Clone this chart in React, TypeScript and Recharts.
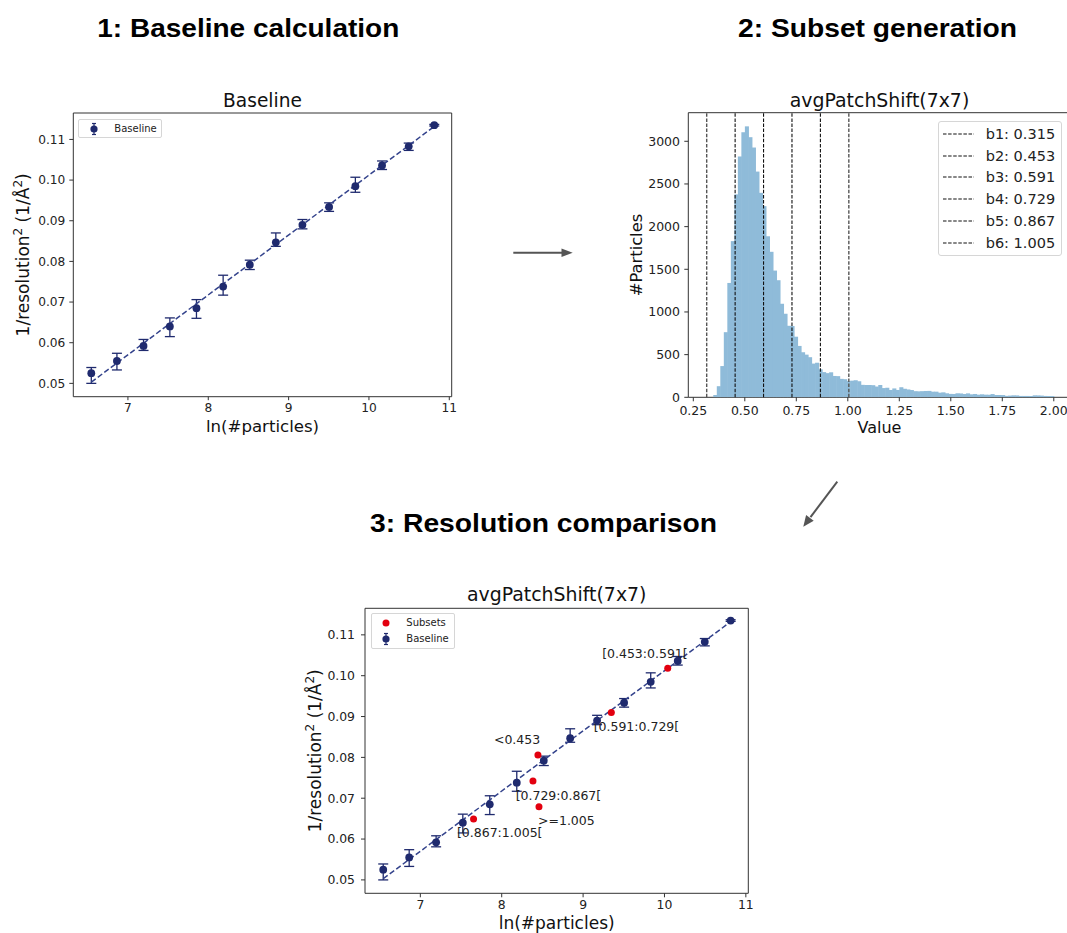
import React from 'react';
import {
  ComposedChart,
  Scatter,
  Bar,
  XAxis,
  YAxis,
  ErrorBar,
  ReferenceLine,
  ReferenceArea,
} from 'recharts';

// ---------------- data ----------------
const baselineLnParticles = [6.544, 6.863, 7.194, 7.522, 7.853, 8.185, 8.517, 8.841, 9.172, 9.504, 9.831, 10.163, 10.495, 10.813];
const baselineInvRes2 = [0.0525, 0.0555, 0.0592, 0.064, 0.0685, 0.0738, 0.0792, 0.0847, 0.089, 0.0934, 0.0985, 0.1036, 0.1083, 0.1135];
const baselineErrLow = [0.0025, 0.0022, 0.0011, 0.0025, 0.0025, 0.0021, 0.0012, 0.001, 0.001, 0.0011, 0.0015, 0.001, 0.001, 0.0002];
const baselineErrHigh = [0.0014, 0.0019, 0.0016, 0.0021, 0.0021, 0.0028, 0.0011, 0.0023, 0.0013, 0.001, 0.0022, 0.0011, 0.0008, 0.0002];

const fitLnParticles = [6.544, 10.813];
const fitInvRes2 = [0.0503, 0.1132];

const subsetLabels = ['<0.453', '[0.453:0.591[', '[0.591:0.729[', '[0.729:0.867[', '[0.867:1.005[', '>=1.005'];
const subsetLnParticles = [8.445, 10.04, 9.347, 8.384, 7.654, 8.458];
const subsetInvRes2 = [0.0806, 0.1018, 0.091, 0.0742, 0.0649, 0.0679];

const histStart = 0.347;
const histBinWidth = 0.01704;
const histCounts = [
  27, 130, 366, 763, 1340, 1830, 2378, 2822, 3106, 3175,
  3048, 2927, 2645, 2396, 2240, 1887, 1705, 1485, 1372, 1096,
  979, 838, 835, 710, 602, 528, 500, 470, 395, 405,
  328, 295, 283, 293, 250, 248, 216, 212, 190, 195,
  200, 188, 146, 144, 144, 142, 126, 144, 108, 112,
  86, 104, 86, 118, 100, 92, 85, 72, 70, 72,
  74, 75, 66, 66, 54, 58, 47, 40, 39, 47,
  45, 39, 46, 35, 39, 31, 35, 31, 30, 38,
  27, 27, 26, 17, 20, 23, 22, 16, 16, 16,
  15, 23, 22, 20, 16, 15, 14,
];

const boundaryNames = ['b1', 'b2', 'b3', 'b4', 'b5', 'b6'];
const boundaryValues = [0.315, 0.453, 0.591, 0.729, 0.867, 1.005];

const lnTicks = [7, 8, 9, 10, 11];
const resTicks = [0.05, 0.06, 0.07, 0.08, 0.09, 0.1, 0.11];
const valueTicks = [0.25, 0.5, 0.75, 1.0, 1.25, 1.5, 1.75, 2.0];
const countTicks = [0, 500, 1000, 1500, 2000, 2500, 3000];

// ---------------- derived tables ----------------
const baselineData = baselineLnParticles.map((x, i) => ({
  x,
  y: baselineInvRes2[i],
  err: [baselineErrLow[i], baselineErrHigh[i]],
}));
const fitData = fitLnParticles.map((x, i) => ({ x, y: fitInvRes2[i] }));
const subsetData = subsetLnParticles.map((x, i) => ({ x, y: subsetInvRes2[i], label: subsetLabels[i] }));
const histData = histCounts.map((c, i) => ({ x: histStart + (i + 0.5) * histBinWidth, count: c }));

// ---------------- styles ----------------
const FONT = '"DejaVu Sans", Verdana, sans-serif';
const NAVY = '#1f2a6e';
const LINE_NAVY = '#34438c';
const RED = '#e3000f';
const HIST_FILL = '#8fbbd9';
const LN_DOMAIN: [number, number] = [6.32, 11.03];
const RES_DOMAIN: [number, number] = [0.04672, 0.1165];
const VAL_DOMAIN: [number, number] = [0.2257, 2.0816];
const CNT_DOMAIN: [number, number] = [0, 3335];

const subsetLabelOffsets: Record<string, [number, number]> = {
  '<0.453': [-44, -15.4],
  '[0.453:0.591[': [-65.6, -15],
  '[0.591:0.729[': [-17.7, 14.4],
  '[0.729:0.867[': [-17.3, 14],
  '[0.867:1.005[': [-16.6, 13.7],
  '>=1.005': [-1, 13.3],
};

const fmt2 = (v: number) => v.toFixed(2);

const makeXLabel = (text: string, dy: number, fs: number) => (props: any) => {
  const vb = props.viewBox || { x: 0, y: 0, width: 0, height: 0 };
  return (
    <text x={vb.x + vb.width / 2} y={vb.y + dy} textAnchor="middle" fontSize={fs} fill="#111" fontFamily={FONT}>
      {text}
    </text>
  );
};

const makeResYLabel = (dx: number) => (props: any) => {
  const vb = props.viewBox || { x: 0, y: 0, width: 0, height: 0 };
  const cx = vb.x + vb.width - dx;
  const cy = vb.y + vb.height / 2;
  return (
    <text transform={`translate(${cx},${cy}) rotate(-90)`} textAnchor="middle" fontSize={17} fill="#111" fontFamily={FONT}>
      1/resolution
      <tspan dy={-7} fontSize={12}>2</tspan>
      <tspan dy={7}> (1/Å</tspan>
      <tspan dy={-7} fontSize={12}>2</tspan>
      <tspan dy={7}>)</tspan>
    </text>
  );
};

const makePlainYLabel = (text: string, dx: number, fs: number) => (props: any) => {
  const vb = props.viewBox || { x: 0, y: 0, width: 0, height: 0 };
  const cx = vb.x + vb.width - dx;
  const cy = vb.y + vb.height / 2;
  return (
    <text transform={`translate(${cx},${cy}) rotate(-90)`} textAnchor="middle" fontSize={fs} fill="#111" fontFamily={FONT}>
      {text}
    </text>
  );
};

const navyDot = (p: any) => <circle cx={p.cx} cy={p.cy} r={3.9} fill={NAVY} />;
const noDot = () => <g />;
const redDotWithLabel = (p: any) => {
  const lbl = p.payload?.label as string;
  const off = subsetLabelOffsets[lbl] || [0, 0];
  return (
    <g>
      <text
        x={p.cx + off[0]}
        y={p.cy + off[1]}
        dy="0.36em"
        fontSize={12.5}
        fill="#222"
        fontFamily={FONT}
        textAnchor="start"
      >
        {lbl}
      </text>
      <circle cx={p.cx} cy={p.cy} r={3.5} fill={RED} />
    </g>
  );
};

// histogram bar: close the sub-pixel gaps between adjacent bins
const histBarShape = (p: any) => {
  if (!p || p.height == null || p.height <= 0) return <g />;
  return <rect x={p.x} y={p.y} width={Math.max(p.width, 0) + 0.9} height={p.height} fill={HIST_FILL} />;
};

const tickStyle = (fs: number) => ({ fontSize: fs, fill: '#222', fontFamily: FONT });

// --- legend marker (errorbar + dot) ---
const ErrMarker = () => (
  <svg width={12} height={14} style={{ display: 'block' }}>
    <line x1={6} y1={1.5} x2={6} y2={12.5} stroke={NAVY} strokeWidth={1.2} />
    <line x1={4} y1={1.5} x2={8} y2={1.5} stroke={NAVY} strokeWidth={1.2} />
    <line x1={4} y1={12.5} x2={8} y2={12.5} stroke={NAVY} strokeWidth={1.2} />
    <circle cx={6} cy={7} r={3.6} fill={NAVY} />
  </svg>
);

// ---------------- chart 1 ----------------
const BaselineChart = () => (
  <div style={{ position: 'absolute', left: 0, top: 80, width: 470, height: 370 }}>
    <ComposedChart width={470} height={370} margin={{ top: 33, right: 18.3, left: 23.3, bottom: 23.3 }}>
      <XAxis
        type="number"
        dataKey="x"
        domain={LN_DOMAIN}
        ticks={lnTicks}
        allowDataOverflow
        axisLine={false}
        tickLine={{ stroke: '#333' }}
        tickSize={3.5}
        tickMargin={3}
        tick={tickStyle(12.2)}
        height={30}
        label={makeXLabel('ln(#particles)', 35, 16.6)}
      />
      <YAxis
        type="number"
        dataKey="y"
        domain={RES_DOMAIN}
        ticks={resTicks}
        allowDataOverflow
        axisLine={false}
        tickLine={{ stroke: '#333' }}
        tickSize={4}
        tickMargin={4}
        tick={tickStyle(12.2)}
        tickFormatter={fmt2}
        width={50}
        label={makeResYLabel(44.3)}
      />
      <ReferenceArea x1={LN_DOMAIN[0]} x2={LN_DOMAIN[1]} y1={RES_DOMAIN[0]} y2={RES_DOMAIN[1]} fill="none" stroke="#333" strokeWidth={1} ifOverflow="visible" />
      <Scatter
        data={fitData}
        line={{ stroke: LINE_NAVY, strokeWidth: 1.5, strokeDasharray: '5.5 2.6' }}
        shape={noDot}
        isAnimationActive={false}
      />
      <Scatter data={baselineData} shape={navyDot} isAnimationActive={false}>
        <ErrorBar dataKey="err" direction="y" width={5} stroke={NAVY} strokeWidth={1.3} isAnimationActive={false} />
      </Scatter>
    </ComposedChart>
    <div
      style={{
        position: 'absolute',
        left: 78.3,
        top: 39.3,
        width: 83.4,
        height: 18.4,
        boxSizing: 'border-box',
        border: '1px solid #d6d6d6',
        borderRadius: 2,
        background: 'rgba(255,255,255,0.85)',
        fontFamily: FONT,
        fontSize: 10,
        color: '#222',
      }}
    >
      <div style={{ position: 'absolute', left: 8.4, top: 1.5 }}>
        <ErrMarker />
      </div>
      <div style={{ position: 'absolute', left: 35, top: 2.3, lineHeight: '12px' }}>Baseline</div>
    </div>
  </div>
);

// ---------------- chart 2 ----------------
const HistChart = () => (
  <div style={{ position: 'absolute', left: 600, top: 80, width: 490, height: 370 }}>
    <ComposedChart
      width={490}
      height={370}
      data={histData}
      margin={{ top: 32.7, right: 19.4, left: 38.3, bottom: 22.7 }}
      barCategoryGap={0}
      barGap={0}
    >
      <XAxis
        type="number"
        dataKey="x"
        domain={VAL_DOMAIN}
        ticks={valueTicks}
        allowDataOverflow
        axisLine={false}
        tickLine={{ stroke: '#333' }}
        tickSize={4}
        tickMargin={4.4}
        tick={tickStyle(12.5)}
        tickFormatter={fmt2}
        height={30}
        label={makeXLabel('Value', 36, 16)}
      />
      <YAxis
        type="number"
        domain={CNT_DOMAIN}
        ticks={countTicks}
        allowDataOverflow
        axisLine={false}
        tickLine={{ stroke: '#333' }}
        tickSize={4}
        tickMargin={4.3}
        tick={tickStyle(12.5)}
        width={50}
        label={makePlainYLabel('#Particles', 46.6, 16.3)}
      />
      <Bar dataKey="count" fill={HIST_FILL} barSize={3.7} shape={histBarShape} isAnimationActive={false} />
      {boundaryValues.map((v, i) => (
        <ReferenceLine
          key={boundaryNames[i]}
          x={v}
          stroke={i === 0 || i === 5 ? '#555' : '#111'}
          strokeWidth={i === 0 || i === 5 ? 1.4 : 1.1}
          strokeDasharray="3.5 1.6"
        />
      ))}
      <ReferenceArea x1={VAL_DOMAIN[0]} x2={VAL_DOMAIN[1]} y1={CNT_DOMAIN[0]} y2={CNT_DOMAIN[1]} fill="none" stroke="#333" strokeWidth={1} ifOverflow="visible" />
    </ComposedChart>
    <div
      style={{
        position: 'absolute',
        left: 337.7,
        top: 40.7,
        width: 124,
        height: 135.3,
        boxSizing: 'border-box',
        border: '1px solid #d6d6d6',
        borderRadius: 3,
        background: 'rgba(255,255,255,0.85)',
        fontFamily: FONT,
        fontSize: 14.5,
        color: '#222',
      }}
    >
      {boundaryValues.map((v, i) => (
        <div
          key={boundaryNames[i]}
          style={{ position: 'absolute', left: 0, top: 12 + i * 21.9 - 11, height: 22, width: 124 }}
        >
          <svg width={31} height={4} style={{ position: 'absolute', left: 4.5, top: 9 }}>
            <line x1={0} y1={2} x2={31} y2={2} stroke="#111" strokeWidth={1.1} strokeDasharray="3.5 1.6" />
          </svg>
          <span style={{ position: 'absolute', left: 47, top: 2, lineHeight: '18px', whiteSpace: 'nowrap' }}>
            {`${boundaryNames[i]}: ${v.toFixed(3)}`}
          </span>
        </div>
      ))}
    </div>
  </div>
);

// ---------------- chart 3 ----------------
const ComparisonChart = () => (
  <div style={{ position: 'absolute', left: 280, top: 560, width: 490, height: 373 }}>
    <ComposedChart width={490} height={373} margin={{ top: 48.3, right: 21.7, left: 35, bottom: 9.7 }}>
      <XAxis
        type="number"
        dataKey="x"
        domain={LN_DOMAIN}
        ticks={lnTicks}
        allowDataOverflow
        axisLine={false}
        tickLine={{ stroke: '#333' }}
        tickSize={4}
        tickMargin={3}
        tick={tickStyle(12.4)}
        height={30}
        label={makeXLabel('ln(#particles)', 35.5, 17)}
      />
      <YAxis
        type="number"
        dataKey="y"
        domain={RES_DOMAIN}
        ticks={resTicks}
        allowDataOverflow
        axisLine={false}
        tickLine={{ stroke: '#333' }}
        tickSize={4}
        tickMargin={6}
        tick={tickStyle(12.4)}
        tickFormatter={fmt2}
        width={50}
        label={makeResYLabel(44.3)}
      />
      <ReferenceArea x1={LN_DOMAIN[0]} x2={LN_DOMAIN[1]} y1={RES_DOMAIN[0]} y2={RES_DOMAIN[1]} fill="none" stroke="#333" strokeWidth={1} ifOverflow="visible" />
      <Scatter
        data={fitData}
        line={{ stroke: LINE_NAVY, strokeWidth: 1.5, strokeDasharray: '5.5 2.6' }}
        shape={noDot}
        isAnimationActive={false}
      />
      <Scatter data={subsetData} shape={redDotWithLabel} isAnimationActive={false} />
      <Scatter data={baselineData} shape={navyDot} isAnimationActive={false}>
        <ErrorBar dataKey="err" direction="y" width={5} stroke={NAVY} strokeWidth={1.3} isAnimationActive={false} />
      </Scatter>
    </ComposedChart>
    <div
      style={{
        position: 'absolute',
        left: 90.7,
        top: 53.3,
        width: 84.3,
        height: 35.7,
        boxSizing: 'border-box',
        border: '1px solid #d6d6d6',
        borderRadius: 2,
        background: 'rgba(255,255,255,0.85)',
        fontFamily: FONT,
        fontSize: 10,
        color: '#222',
      }}
    >
      <svg width={12} height={12} style={{ position: 'absolute', left: 8.6, top: 2.4 }}>
        <circle cx={6} cy={6} r={3.5} fill={RED} />
      </svg>
      <div style={{ position: 'absolute', left: 34.6, top: 2.4, lineHeight: '12px' }}>Subsets</div>
      <div style={{ position: 'absolute', left: 8.6, top: 17.4 }}>
        <ErrMarker />
      </div>
      <div style={{ position: 'absolute', left: 34.6, top: 18.4, lineHeight: '12px' }}>Baseline</div>
    </div>
  </div>
);

// ---------------- overlay (headers, titles, arrows) ----------------
const Overlay = () => (
  <svg width={1067} height={933} style={{ position: 'absolute', left: 0, top: 0, pointerEvents: 'none' }}>
    <g fontFamily='"Liberation Sans", Arial, sans-serif' fontWeight="bold" fontSize={26} fill="#000">
      <text x={248.3} y={36.7} textAnchor="middle" textLength={302} lengthAdjust="spacingAndGlyphs">1: Baseline calculation</text>
      <text x={877.5} y={36.7} textAnchor="middle" textLength={279} lengthAdjust="spacingAndGlyphs">2: Subset generation</text>
      <text x={543.5} y={531.5} textAnchor="middle" textLength={347} lengthAdjust="spacingAndGlyphs">3: Resolution comparison</text>
    </g>
    <g fontFamily={FONT} fill="#111" textAnchor="middle">
      <text x={262.5} y={106.5} fontSize={18.6}>Baseline</text>
      <text x={879.5} y={106.5} fontSize={18.9}>avgPatchShift(7x7)</text>
      <text x={556.7} y={601} fontSize={18.9}>avgPatchShift(7x7)</text>
    </g>
    <g stroke="#555" strokeWidth={2} fill="#555">
      <line x1={513.3} y1={252.7} x2={563} y2={252.7} />
      <polygon points="572.7,252.7 561.5,248.4 561.5,257" stroke="none" />
      <line x1={837.3} y1={481.7} x2={810.5} y2={517.1} />
      <polygon points="803.3,526.7 806.1,515.0 813.7,520.8" stroke="none" />
    </g>
  </svg>
);

export default function App() {
  return (
    <div
      style={{
        position: 'absolute',
        left: 0,
        top: 0,
        width: 1067,
        height: 933,
        overflow: 'hidden',
        background: '#fff',
        fontFamily: FONT,
      }}
    >
      <BaselineChart />
      <HistChart />
      <ComparisonChart />
      <Overlay />
    </div>
  );
}
